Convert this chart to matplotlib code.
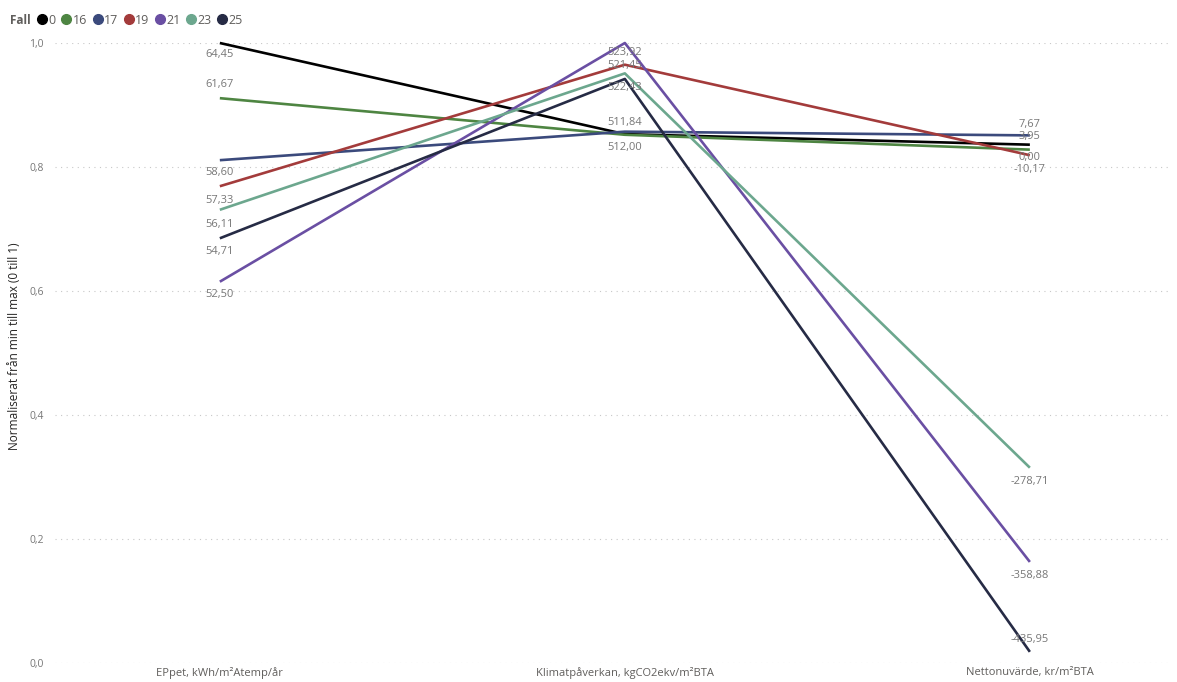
import matplotlib.pyplot as plt
from matplotlib.lines import Line2D

plt.rcParams['font.family'] = ['Open Sans', 'DejaVu Sans']

kategorier = ['EPpet, kWh/m²Atemp/år', 'Klimatpåverkan, kgCO2ekv/m²BTA', 'Nettonuvärde, kr/m²BTA']
fall = ['0', '16', '17', '19', '21', '23', '25']

# normaliserade värden (0 till 1) per fall: EPpet, Klimatpåverkan, Nettonuvärde
norm_0 = [1.000, 0.853, 0.836]
norm_16 = [0.911, 0.852, 0.828]
norm_17 = [0.811, 0.857, 0.851]
norm_19 = [0.769, 0.965, 0.819]
norm_21 = [0.615, 1.000, 0.163]
norm_23 = [0.731, 0.951, 0.315]
norm_25 = [0.685, 0.942, 0.018]

# verkliga värden som visas som etiketter (None = etikett dold)
varde_0 = [64.45, 512.00, 3.95]
varde_16 = [61.67, None, 0.00]
varde_17 = [58.60, 511.84, 7.67]
varde_19 = [57.33, 521.45, -10.17]
varde_21 = [52.50, 523.92, -358.88]
varde_23 = [56.11, 522.43, -278.71]
varde_25 = [54.71, None, -435.95]

normer = [norm_0, norm_16, norm_17, norm_19, norm_21, norm_23, norm_25]
varden = [varde_0, varde_16, varde_17, varde_19, varde_21, varde_23, varde_25]

farger = ['#000000', '#4E8542', '#3B4A7C', '#A33B3B', '#6A4FA3', '#6CA78E', '#262B45']

# etikettens förskjutning i pixlar (positiv = ovanför punkten)
forskjutning = [
    [-12, -13, 8],
    [14, 0, -8],
    [-12, 9, 11],
    [-14, -1, -14],
    [-13, -10, -14],
    [-15, -14, -14],
    [-13, 0, 12],
]

def fmt(v):
    return f'{v:.2f}'.replace('.', ',')

fig = plt.figure(figsize=(11.77, 6.82), dpi=100)
ax = fig.add_axes([55 / 1177, 19 / 682, 1115 / 1177, 620 / 682])

x = list(range(len(kategorier)))
for namn, y, farg in zip(fall, normer, farger):
    ax.plot(x, y, color=farg, lw=1.9, clip_on=False, solid_capstyle='butt')

for y, v, off in zip(normer, varden, forskjutning):
    for i in range(len(kategorier)):
        if v[i] is None:
            continue
        ax.annotate(fmt(v[i]), (x[i], y[i]), xytext=(0, off[i]), textcoords='offset pixels',
                    ha='center', va='center', fontsize=8, color='#777777')

ax.set_xlim(-0.407, 2.346)
ax.set_ylim(0, 1.0)
ax.set_xticks(x)
ax.set_xticklabels(kategorier, fontsize=8, color='#605E5C')
ticks = [0.0, 0.2, 0.4, 0.6, 0.8, 1.0]
ax.set_yticks(ticks)
ax.set_yticklabels([f'{t:.1f}'.replace('.', ',') for t in ticks], fontsize=7.5, color='#777777')
ax.tick_params(length=0)
ax.tick_params(axis='y', pad=8)
ax.tick_params(axis='x', pad=3)
ax.grid(axis='y', color='#C8C8C8', lw=0.8, linestyle=(0, (1, 4)))
ax.set_axisbelow(True)
for s in ax.spines.values():
    s.set_visible(False)

fig.text(15 / 1177, 1 - 346 / 682, 'Normaliserat från min till max (0 till 1)', rotation=90,
         ha='center', va='center', fontsize=8.5, color='#252423')

fig.text(10 / 1177, 1 - 20 / 682, 'Fall', fontsize=8.5, fontweight='bold', color='#605E5C',
         ha='left', va='center')
handles = [Line2D([], [], marker='o', ls='', color=c, markersize=7) for c in farger]
fig.legend(handles, fall, loc='center left', bbox_to_anchor=(36 / 1177, 1 - 20 / 682), ncol=7,
           frameon=False, handletextpad=0.0, columnspacing=0.35, handlelength=1.0,
           borderpad=0, borderaxespad=0, fontsize=9, labelcolor='#605E5C')

fig.savefig('out.png', dpi=100)
